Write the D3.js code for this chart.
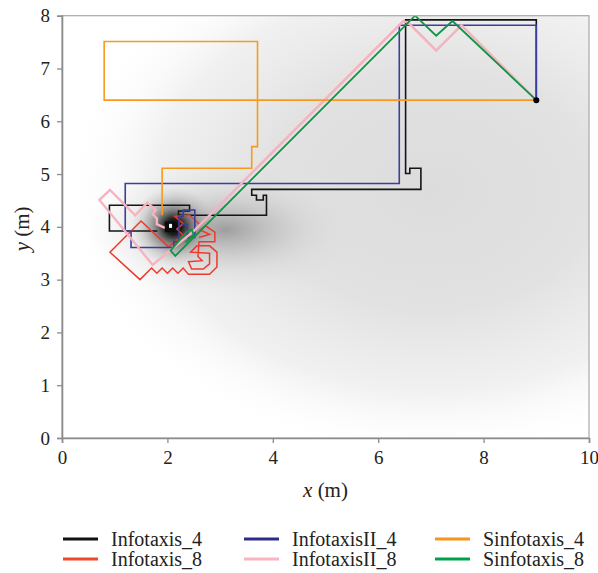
<!DOCTYPE html>
<html>
<head>
<meta charset="utf-8">
<script src="https://cdn.jsdelivr.net/npm/d3@7"></script>
<style>
  body { margin: 0; background: #fff; }
  text { font-family: "Liberation Serif", "DejaVu Serif", serif; fill: #222; }
</style>
</head>
<body>
<div id="chart"></div>
<script>
// ---- data (metres) ----
const xTicks = [0, 2, 4, 6, 8, 10];
const yTicks = [0, 1, 2, 3, 4, 5, 6, 7, 8];

const startPoint = [9, 6.4];
const sourcePoint = [2.05, 4.0];

const infotaxis4 = [
  [9, 6.4], [9, 7.92], [6.52, 7.92], [6.52, 5.01], [6.6, 5.01], [6.6, 5.11],
  [6.81, 5.11], [6.81, 4.71], [3.6, 4.71], [3.6, 4.6], [3.69, 4.6], [3.69, 4.51],
  [3.82, 4.51], [3.82, 4.6], [3.88, 4.6], [3.88, 4.22], [2.21, 4.22], [2.21, 4.3],
  [2.42, 4.3], [2.42, 4.41], [0.9, 4.41], [0.9, 3.92], [1.81, 3.92]
];

const infotaxis8 = [
  [9, 6.4], [7.58, 7.82], [7.1, 7.34], [6.6, 7.84], [6.48, 7.9], [2.62, 4.04],
  [2.42, 4.22], [2.14, 4.2], [2.3, 4.06], [2.18, 3.96], [2.3, 3.84], [2.02, 3.62],
  [1.5, 4.11], [0.91, 3.52], [1.48, 3.0], [1.7, 3.22], [1.8, 3.12], [1.9, 3.22],
  [2.0, 3.12], [2.1, 3.22], [2.2, 3.12], [2.3, 3.22], [2.4, 3.1], [2.8, 3.1],
  [2.94, 3.24], [2.94, 3.52], [2.8, 3.64], [2.56, 3.64], [2.44, 3.52], [2.8, 3.5],
  [2.8, 3.3], [2.68, 3.2], [2.46, 3.2], [2.4, 3.34], [2.66, 3.36], [2.58, 3.44],
  [2.6, 3.72], [2.9, 3.72], [2.9, 3.9], [2.72, 4.02], [2.62, 3.94], [2.8, 3.86],
  [2.6, 3.8]
];

const infotaxisII4 = [
  [9, 6.4], [9, 7.82], [6.4, 7.82], [6.4, 4.82], [1.2, 4.82], [1.2, 3.92],
  [1.31, 3.92], [1.31, 3.61], [2.12, 3.61], [2.12, 3.72], [2.22, 3.72], [2.22, 4.2],
  [2.3, 4.2], [2.3, 4.32], [2.52, 4.32], [2.52, 3.8], [2.38, 3.8], [2.38, 4.05],
  [2.28, 4.05]
];

const infotaxisII8 = [
  [9, 6.4], [7.58, 7.82], [7.1, 7.34], [6.6, 7.84], [6.48, 7.9], [2.5, 3.92],
  [1.72, 3.28], [0.71, 4.51], [0.91, 4.7], [1.39, 4.22], [1.62, 4.46], [1.78, 4.32],
  [1.72, 4.24], [1.8, 4.16], [1.8, 4.05], [1.95, 3.98]
];

const sinfotaxis4 = [
  [9, 6.4], [0.8, 6.4], [0.8, 7.51], [3.71, 7.51], [3.71, 5.52], [3.6, 5.52],
  [3.6, 5.11], [1.9, 5.11], [1.9, 4.22]
];

const sinfotaxis8 = [
  [9, 6.4], [7.41, 7.9], [7.1, 7.62], [6.7, 8.0], [2.15, 3.45], [2.06, 3.55],
  [2.36, 3.9], [2.46, 3.95], [2.5, 3.85], [2.34, 3.7]
];

const seriesNames = ["Infotaxis_4", "Infotaxis_8", "InfotaxisII_4", "InfotaxisII_8", "Sinfotaxis_4", "Sinfotaxis_8"];
const seriesData = [infotaxis4, infotaxis8, infotaxisII4, infotaxisII8, sinfotaxis4, sinfotaxis8];
const seriesColors = ["#141414", "#ee3a2c", "#3b3f9c", "#f7b3c0", "#f79a1e", "#0f9444"];
const legendColors = ["#111111", "#f1482a", "#2e2c8a", "#f8b4c0", "#f7941d", "#00a14b"];
const seriesWidths = [1.6, 1.5, 1.6, 2.4, 1.6, 1.8];
// order of drawing (later on top)
const drawOrder = [0, 1, 2, 3, 4, 5];

// ---- layout ----
const width = 598;
const height = 573;
const margin = { top: 15.7, right: 9, bottom: 135, left: 62 };
const ctrWidth = width - margin.left - margin.right;
const ctrHeight = height - margin.top - margin.bottom;

const svg = d3.select("#chart")
  .append("svg")
  .attr("width", width)
  .attr("height", height);

const x = d3.scaleLinear().domain([0, 10]).range([0, ctrWidth]);
const y = d3.scaleLinear().domain([0, 8]).range([ctrHeight, 0]);

const defs = svg.append("defs");

defs.append("clipPath").attr("id", "plotClip")
  .append("rect").attr("width", ctrWidth).attr("height", ctrHeight);

// background concentration shading (pure styling gradients)
const makeGrad = (id, stops) => {
  const g = defs.append("radialGradient").attr("id", id);
  stops.forEach(s => {
    g.append("stop")
      .attr("offset", s[0])
      .attr("stop-color", s[1])
      .attr("stop-opacity", s[2]);
  });
};
makeGrad("gWide", [[0, "#dcdcdc", 1], [0.45, "#e2e2e2", 1], [0.75, "#ececec", 0.75], [1, "#ffffff", 0]]);
makeGrad("gPlume", [[0, "#959595", 0.9], [0.3, "#b0b0b0", 0.65], [0.65, "#cccccc", 0.3], [1, "#dddddd", 0]]);
makeGrad("gCore", [[0, "#000000", 1], [0.2, "#151515", 0.95], [0.45, "#555555", 0.6], [0.75, "#8f8f8f", 0.25], [1, "#aaaaaa", 0]]);

const bgShapes = [
  { c: [7, 4.7], r: [7, 5.1], fill: "gWide" },
  { c: [3.1, 3.95], r: [2.6, 1.25], fill: "gPlume" },
  { c: [2.12, 4.0], r: [0.8, 0.75], fill: "gCore" }
];

const g = svg.append("g")
  .attr("transform", "translate(" + margin.left + "," + margin.top + ")");

const plot = g.append("g").attr("clip-path", "url(#plotClip)");

plot.append("rect")
  .attr("width", ctrWidth)
  .attr("height", ctrHeight)
  .attr("fill", "#ffffff");

plot.selectAll(".bg")
  .data(bgShapes)
  .join("ellipse")
  .attr("class", "bg")
  .attr("cx", d => x(d.c[0]))
  .attr("cy", d => y(d.c[1]))
  .attr("rx", d => x(d.r[0]) - x(0))
  .attr("ry", d => y(0) - y(d.r[1]))
  .attr("fill", d => "url(#" + d.fill + ")");

// source marker
const srcSize = x(0.2) - x(0);
plot.append("rect")
  .attr("x", x(sourcePoint[0]) - srcSize / 2)
  .attr("y", y(sourcePoint[1]) - srcSize / 2)
  .attr("width", srcSize)
  .attr("height", srcSize)
  .attr("fill", "#0a0a0a");
plot.append("rect")
  .attr("x", x(sourcePoint[0]) - 1)
  .attr("y", y(sourcePoint[1]) - 3)
  .attr("width", 3)
  .attr("height", 4)
  .attr("fill", "#ffffff");

// trajectories
const line = d3.line().x(d => x(d[0])).y(d => y(d[1]));

plot.selectAll(".traj")
  .data(drawOrder)
  .join("path")
  .attr("class", "traj")
  .attr("d", i => line(seriesData[i]))
  .attr("fill", "none")
  .attr("stroke", i => seriesColors[i])
  .attr("stroke-width", i => seriesWidths[i])
  .attr("stroke-linejoin", "miter");

// start point
plot.append("circle")
  .attr("cx", x(startPoint[0]))
  .attr("cy", y(startPoint[1]))
  .attr("r", 3)
  .attr("fill", "#000");

// frame (top/right)
g.append("rect")
  .attr("width", ctrWidth)
  .attr("height", ctrHeight)
  .attr("fill", "none")
  .attr("stroke", "#a8a8a8")
  .attr("stroke-width", 1.2);

// axes
const xAxis = g.append("g")
  .attr("transform", "translate(0," + ctrHeight + ")")
  .call(d3.axisBottom(x).tickValues(xTicks).tickSize(5).tickPadding(8));
const yAxis = g.append("g")
  .call(d3.axisLeft(y).tickValues(yTicks).tickSize(5).tickPadding(7));

[xAxis, yAxis].forEach(ax => {
  ax.select(".domain").attr("stroke", "#8c8c8c").attr("stroke-width", 1.6);
  ax.selectAll(".tick line").attr("stroke", "#8c8c8c").attr("stroke-width", 1.3);
  ax.selectAll(".tick text")
    .attr("font-size", 19)
    .attr("fill", "#222");
});

// axis titles
const xTitle = svg.append("text")
  .attr("x", margin.left + ctrWidth / 2)
  .attr("y", 497)
  .attr("text-anchor", "middle")
  .attr("font-size", 21);
xTitle.append("tspan").attr("font-style", "italic").text("x");
xTitle.append("tspan").text(" (m)");

const yTitle = svg.append("text")
  .attr("transform", "translate(29," + (margin.top + y(4) + 2) + ") rotate(-90)")
  .attr("text-anchor", "middle")
  .attr("font-size", 21);
yTitle.append("tspan").attr("font-style", "italic").text("y");
yTitle.append("tspan").text(" (m)");

// legend: 3 columns x 2 rows, column-major
const legendCols = [63, 244, 435];
const legendRows = [539, 559];
const legend = svg.append("g");
const items = legend.selectAll(".item")
  .data(seriesNames)
  .join("g")
  .attr("class", "item")
  .attr("transform", (d, i) =>
    "translate(" + legendCols[Math.floor(i / 2)] + "," + legendRows[i % 2] + ")");
items.append("line")
  .attr("x1", 0).attr("x2", 35)
  .attr("stroke", (d, i) => legendColors[i])
  .attr("stroke-width", 3);
items.append("text")
  .attr("x", 48)
  .attr("dy", "0.35em")
  .attr("font-size", 20)
  .text(d => d);
</script>
</body>
</html>
